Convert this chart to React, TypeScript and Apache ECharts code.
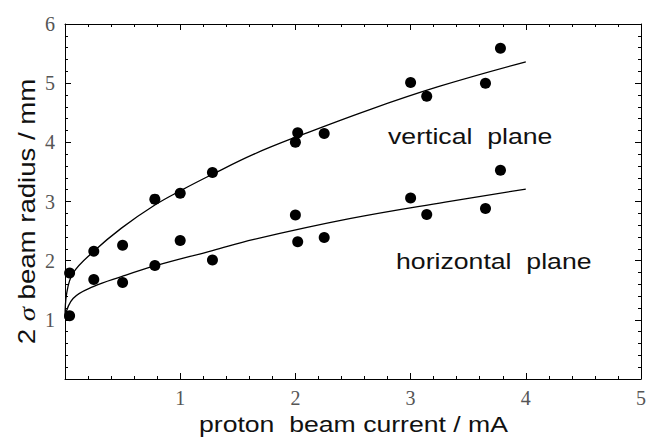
import React, { useEffect, useRef } from "react";
import * as echarts from "echarts";

// Measured data points: [proton beam current (mA), 2σ beam radius (mm)]
const verticalPoints: [number, number][] = [
  [0.04, 1.79], [0.25, 2.16], [0.5, 2.26], [0.78, 3.04], [1.0, 3.14], [1.28, 3.49],
  [2.0, 4.0], [2.02, 4.16], [2.25, 4.15], [3.0, 5.01], [3.14, 4.78], [3.65, 5.0], [3.78, 5.59],
];
const horizontalPoints: [number, number][] = [
  [0.04, 1.07], [0.25, 1.68], [0.5, 1.63], [0.78, 1.92], [1.0, 2.34], [1.28, 2.01],
  [2.0, 2.77], [2.02, 2.32], [2.25, 2.39], [3.0, 3.06], [3.14, 2.78], [3.65, 2.88], [3.78, 3.53],
];
// Fit curves
const verticalFit: [number, number][] = [
  [0, 1.02], [0.015, 1.45], [0.07, 1.79], [0.245, 2.15], [0.49, 2.55], [0.78, 2.94],
  [1.0, 3.18], [1.28, 3.46], [1.64, 3.8], [2.02, 4.1], [2.64, 4.55], [3.24, 4.94], [4.0, 5.36],
];
const horizontalFit: [number, number][] = [
  [0, 1.05], [0.07, 1.36], [0.245, 1.56], [0.49, 1.73], [0.78, 1.91], [1.28, 2.17],
  [1.64, 2.36], [2.47, 2.71], [3.3, 2.99], [4.0, 3.21],
];

const xRange = { min: 0, max: 5, interval: 1 };
const yRange = { min: 0, max: 6, interval: 1 };

const xTitle = "proton  beam current / mA";
const labelVertical = "vertical  plane";
const labelHorizontal = "horizontal  plane";

const SANS = "'Liberation Sans', Arial, Helvetica, sans-serif";
const SERIF = "'Liberation Serif', 'Times New Roman', serif";

export default function App() {
  const ref = useRef<HTMLDivElement>(null);
  useEffect(() => {
    if (!ref.current) return;
    const chart = echarts.init(ref.current, undefined, { renderer: "svg" });
    const black = "#000";
    const tickCommon = {
      axisLine: { show: true, onZero: false, lineStyle: { color: black, width: 1 } },
      axisTick: { show: true, inside: true, length: 6, lineStyle: { color: black, width: 1 } },
      minorTick: { show: true, splitNumber: 5, length: 3, lineStyle: { color: black, width: 1 } },
      splitLine: { show: false },
      minorSplitLine: { show: false },
    };
    const labelStyle = {
      fontFamily: SERIF,
      fontSize: 20,
      color: "#555",
      formatter: (v: number) => (v === 0 ? "" : String(v)),
    };
    chart.setOption({
      animation: false,
      backgroundColor: "#fff",
      grid: { left: 65, right: 6, top: 24, bottom: 61, containLabel: false },
      xAxis: [
        { type: "value", ...xRange, position: "bottom", ...tickCommon,
          axisLabel: { ...labelStyle, margin: 9 } },
        { type: "value", ...xRange, position: "top", ...tickCommon, axisLabel: { show: false } },
      ],
      yAxis: [
        { type: "value", ...yRange, position: "left", ...tickCommon,
          axisLabel: { ...labelStyle, margin: 10 } },
        { type: "value", ...yRange, position: "right", ...tickCommon, axisLabel: { show: false } },
      ],
      series: [
        { type: "line", data: verticalFit, showSymbol: false, symbol: "none", smooth: 0.4,
          lineStyle: { color: black, width: 1.3 }, z: 2 },
        { type: "line", data: horizontalFit, showSymbol: false, symbol: "none", smooth: 0.4,
          lineStyle: { color: black, width: 1.3 }, z: 2 },
        { type: "scatter", data: verticalPoints, symbol: "circle", symbolSize: 11,
          itemStyle: { color: black, opacity: 1 }, z: 3 },
        { type: "scatter", data: horizontalPoints, symbol: "circle", symbolSize: 11,
          itemStyle: { color: black, opacity: 1 }, z: 3 },
      ],
      graphic: [
        { type: "text", x: 353.5, y: 424, scaleX: 1.21, style: {
            text: xTitle, font: `22px ${SANS}`, fill: "#111",
            textAlign: "center", textVerticalAlign: "middle", align: "center", verticalAlign: "middle" } },
        { type: "text", x: 27, y: 211.5, rotation: Math.PI / 2, scaleX: 1.2, style: {
            text: "{n|2 }{s|σ}{n| beam radius / mm}",
            rich: {
              n: { font: `23px ${SANS}`, fill: "#111" },
              s: { font: `italic 24px ${SERIF}`, fill: "#111" },
            },
            fill: "#111",
            textAlign: "center", textVerticalAlign: "middle", align: "center", verticalAlign: "middle" } },
        { type: "text", x: 388, y: 136.5, scaleX: 1.24, style: {
            text: labelVertical, font: `21.5px ${SANS}`, fill: "#111",
            textAlign: "left", textVerticalAlign: "middle", align: "left", verticalAlign: "middle" } },
        { type: "text", x: 396, y: 261.5, scaleX: 1.24, style: {
            text: labelHorizontal, font: `21.5px ${SANS}`, fill: "#111",
            textAlign: "left", textVerticalAlign: "middle", align: "left", verticalAlign: "middle" } },
      ],
    });
    return () => chart.dispose();
  }, []);
  return (
    <div
      ref={ref}
      style={{ position: "fixed", left: 0, top: 0, width: 649, height: 440, background: "#fff" }}
    />
  );
}
